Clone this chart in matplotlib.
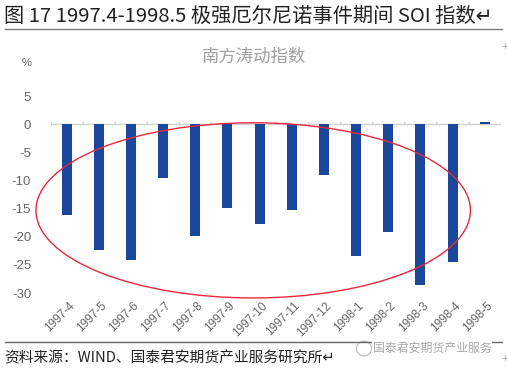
import matplotlib.pyplot as plt
from matplotlib.patches import Ellipse
import numpy as np

# data
months = ['1997-4', '1997-5', '1997-6', '1997-7', '1997-8', '1997-9', '1997-10',
          '1997-11', '1997-12', '1998-1', '1998-2', '1998-3', '1998-4', '1998-5']
soi = [-16.2, -22.4, -24.2, -9.5, -19.8, -14.8, -17.8,
       -15.2, -9.1, -23.5, -19.2, -28.5, -24.5, 0.5]
yticks = [5, 0, -5, -10, -15, -20, -25, -30]

fig_title = '图 17 1997.4-1998.5 极强厄尔尼诺事件期间 SOI 指数↵'
chart_title = '南方涛动指数'
source = '资料来源：WIND、国泰君安期货产业服务研究所↵'
watermark = '国泰君安期货产业服务'

CJK = ['Noto Sans CJK SC', 'DejaVu Sans']
BAR_COLOR = '#1b479a'
GREY = '#666666'

fig = plt.figure(figsize=(5.07, 3.70), dpi=100)
ax = fig.add_axes([0.0998, 0.208, 0.888, 0.532])

x = np.arange(len(months))
ax.bar(x, soi, width=0.31, color=BAR_COLOR, zorder=2)
ax.set_xlim(-0.5, len(months) - 0.5)
ax.set_ylim(-30, 5)

# zero line with small category ticks above it
ax.axhline(0, color='#d0d0d0', lw=1, zorder=1)
for b in np.arange(-0.5, len(months), 1.0):
    ax.plot([b, b], [0, 0.5], color='#d0d0d0', lw=0.8, zorder=1)

for s in ax.spines.values():
    s.set_visible(False)
ax.set_yticks(yticks)
ax.set_yticklabels([str(t) for t in yticks], fontsize=9.5, color=GREY,
                   family='Liberation Sans')
ax.tick_params(axis='y', length=0, pad=14)
ax.set_xticks([])
for i, m in enumerate(months):
    ax.text(i + 0.05, -31.2, m, rotation=45, ha='right', va='top',
            rotation_mode='anchor', fontsize=8.5, color=GREY,
            family='Liberation Sans')

# red highlight ellipse
ell = Ellipse((0.45, 0.42), 0.965, 0.89, transform=ax.transAxes,
              fill=False, edgecolor='#e8283c', lw=1.0, zorder=3, clip_on=False)
ax.add_patch(ell)

# figure texts
fig.text(0.008, 0.955, fig_title, fontsize=14.6, family=CJK, color='#222222',
         ha='left', va='center')
fig.add_artist(plt.Line2D([0.01, 0.99], [0.921, 0.921], color='#777777', lw=1.0))
fig.text(0.502, 0.846, chart_title, fontsize=12.5, family=CJK, color='#a0a0a0',
         ha='center', va='center')
fig.text(0.052, 0.829, '%', fontsize=8, color=GREY, ha='center', va='center',
         family='Liberation Sans')
fig.text(0.996, 0.873, '+', fontsize=6, color='#999999', ha='center', va='center')

fig.add_artist(plt.Line2D([0.01, 0.99], [0.076, 0.076], color='#666666', lw=1.0))
fig.text(0.008, 0.032, source, fontsize=10.6, family=CJK, color='#222222',
         ha='left', va='center')
fig.text(0.852, 0.058, watermark, fontsize=8.6, family=CJK, color='#aaaaaa',
         ha='center', va='center',
         bbox=dict(facecolor='white', edgecolor='none', pad=0.5))
fig.add_artist(Ellipse((0.718, 0.058), 0.03, 0.04, transform=fig.transFigure,
                       fill=False, edgecolor='#bbbbbb', lw=0.8))
fig.text(0.996, 0.032, '+', fontsize=6, color='#999999', ha='center', va='center')

fig.savefig('out.png', dpi=100)
